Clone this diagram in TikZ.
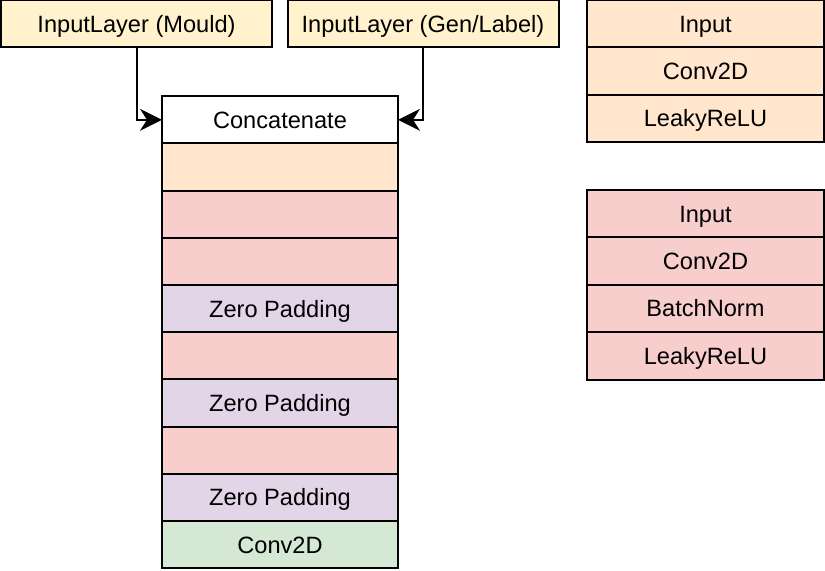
\documentclass[tikz,border=0pt]{standalone}
\usepackage{fontspec}
\setmainfont{Liberation Sans}
\usepackage{xcolor}
\usetikzlibrary{arrows.meta,positioning}
\definecolor{inyellow}{HTML}{FFF2CC}
\definecolor{blkorange}{HTML}{FFE6CC}
\definecolor{blkred}{HTML}{F8CECC}
\definecolor{padpurple}{HTML}{E1D5E7}
\definecolor{outgreen}{HTML}{D5E8D4}

\begin{document}
\begin{tikzpicture}[x=0.5pt, y=-0.5pt,
    layer/.style={draw=black, line width=1pt, outer sep=0pt, inner sep=0pt, minimum width=118pt, minimum height=23.6pt, text height=8.45pt, text depth=0pt, align=center, font=\fontsize{11.8}{14}\selectfont},
    inputbox/.style={layer, fill=inyellow, minimum width=135.5pt},
    sidebox/.style={layer, minimum width=118.5pt, minimum height=23.7pt},
    feed/.style={line width=1pt, -{Stealth[length=11pt, width=11pt, inset=3.5pt]}}
]
\useasboundingbox (0,0) rectangle (825,570);
% inputs
\node[inputbox] (mould) at (136.5,23.6) {InputLayer (Mould)};
\node[inputbox] (gen) at (423,23.6) {InputLayer (Gen/Label)};
% main stack
\node[layer, fill=white] (concat) at (280,119.8) {Concatenate};
\node[layer, fill=blkorange, below=0pt of concat] (b1) {};
\node[layer, fill=blkred, below=0pt of b1] (b2) {};
\node[layer, fill=blkred, below=0pt of b2] (b3) {};
\node[layer, fill=padpurple, below=0pt of b3] (pad1) {Zero Padding};
\node[layer, fill=blkred, below=0pt of pad1] (b4) {};
\node[layer, fill=padpurple, below=0pt of b4] (pad2) {Zero Padding};
\node[layer, fill=blkred, below=0pt of pad2] (b5) {};
\node[layer, fill=padpurple, below=0pt of b5] (pad3) {Zero Padding};
\node[layer, fill=outgreen, below=0pt of pad3] (out) {Conv2D};
\draw[feed] (mould.south) |- (concat.west);
\draw[feed] (gen.south) |- (concat.east);
% legend: first block
\node[sidebox, fill=blkorange] (ka) at (705.5,23.7) {Input};
\node[sidebox, fill=blkorange, below=0pt of ka] (kb) {Conv2D};
\node[sidebox, fill=blkorange, below=0pt of kb] (kc) {LeakyReLU};
% legend: downsampling block
\node[sidebox, fill=blkred] (ra) at (705.5,213.7) {Input};
\node[sidebox, fill=blkred, below=0pt of ra] (rb) {Conv2D};
\node[sidebox, fill=blkred, below=0pt of rb] (rc) {BatchNorm};
\node[sidebox, fill=blkred, below=0pt of rc] (rd) {LeakyReLU};
\end{tikzpicture}
\end{document}
